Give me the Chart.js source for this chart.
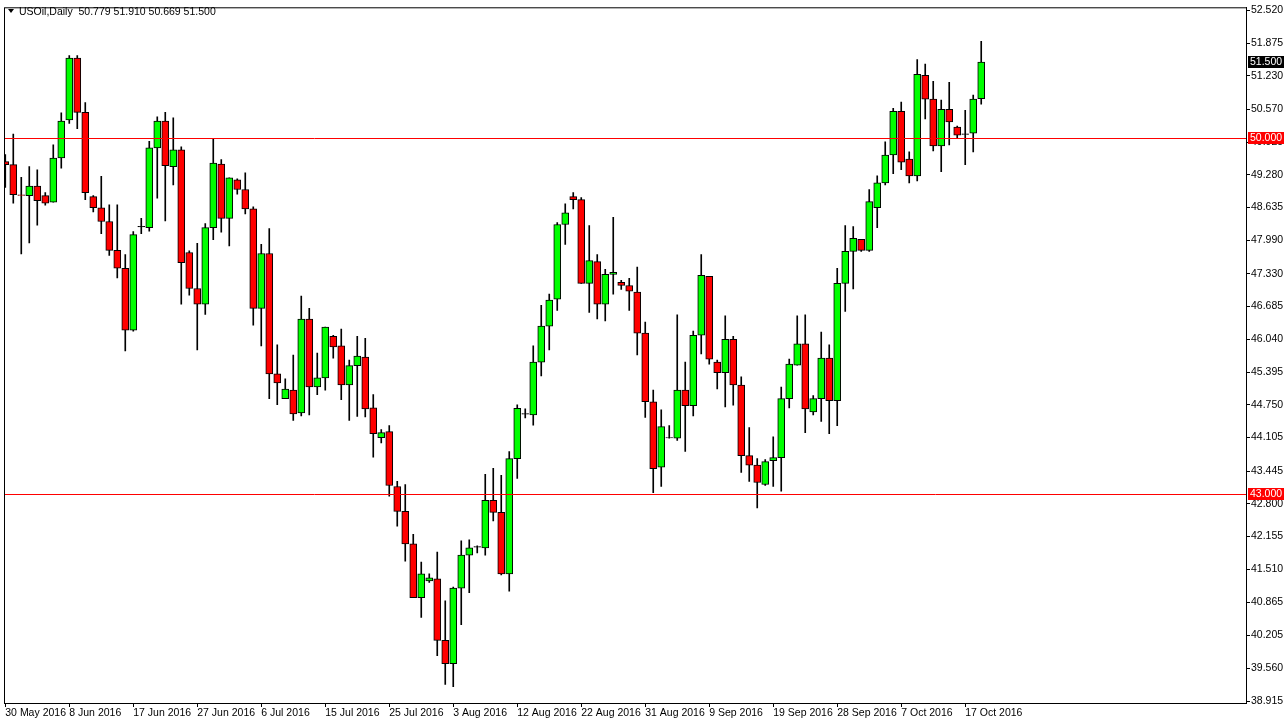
<!DOCTYPE html>
<html>
<head>
<meta charset="utf-8">
<script src="https://cdn.jsdelivr.net/npm/chart.js@4"></script>
<style>
  html, body { margin: 0; padding: 0; background: #fff; }
  canvas { display: block; }
</style>
</head>
<body>
<canvas id="oil_chart" width="1288" height="726"></canvas>
<script>
// daily candles, USOil 30 May 2016 - 21 Oct 2016
const opens = [49.54,49.48,48.88,48.87,49.06,48.87,48.74,49.61,50.36,51.58,
  50.51,48.85,48.63,48.36,47.79,47.44,46.22,48.26,48.24,49.81,
  50.34,49.44,49.77,47.75,47.04,46.73,48.24,49.49,48.42,49.18,
  48.99,48.61,46.65,47.73,45.36,44.87,45.04,44.59,46.44,45.10,
  45.28,46.10,45.91,45.14,45.52,45.69,44.69,44.10,44.22,43.14,
  42.65,42.01,40.95,41.28,41.32,40.11,39.65,41.14,41.79,41.95,
  41.93,42.87,42.63,41.42,43.69,44.57,44.55,45.59,46.30,46.83,
  48.30,48.85,48.79,47.14,47.57,46.73,47.32,47.16,47.10,46.97,
  46.16,44.81,43.52,44.10,44.09,45.04,44.73,46.12,47.28,45.59,
  45.38,46.04,45.14,43.75,43.56,43.18,43.65,43.71,44.87,45.53,
  45.95,44.61,44.87,45.67,44.83,47.14,47.77,48.01,47.79,48.63,
  49.12,49.67,50.53,49.59,49.26,51.24,50.77,49.85,50.57,50.22,
  50.08,50.10,50.779];
const highs = [49.68,50.08,49.23,49.44,49.38,48.93,49.87,50.50,51.63,51.63,
  50.70,48.87,49.25,48.69,48.69,47.71,48.16,48.42,49.94,50.42,
  50.51,50.40,49.83,47.78,47.93,48.32,49.98,49.58,49.22,49.20,
  49.32,48.65,47.91,48.22,45.93,45.26,45.73,46.89,46.65,45.77,
  46.28,46.12,46.24,45.63,46.10,46.06,44.95,44.26,44.34,43.24,
  43.18,42.20,41.65,41.42,41.85,40.89,41.16,42.07,42.09,41.97,
  43.38,43.50,43.36,43.83,44.75,44.67,45.91,46.71,46.93,48.34,
  48.71,48.93,48.83,48.28,47.71,47.42,48.44,47.20,47.24,47.46,
  46.38,45.04,44.65,44.34,46.52,45.59,46.20,47.71,47.28,45.63,
  46.50,46.10,45.30,44.30,43.69,43.67,44.12,45.10,45.65,46.50,
  46.52,44.93,46.18,45.93,47.44,48.28,48.26,48.01,48.99,49.26,
  49.93,50.59,50.71,49.73,51.55,51.46,51.12,50.75,51.10,50.24,
  50.55,50.85,51.910];
const lows = [49.03,48.72,47.72,47.94,48.29,48.68,48.74,49.41,50.29,50.19,
  48.79,48.55,48.12,47.69,47.25,45.81,46.20,48.12,48.17,48.82,
  48.37,49.08,46.73,46.91,45.83,46.53,48.00,48.15,47.88,48.90,
  48.51,46.32,45.91,44.87,44.75,44.87,44.44,44.53,44.55,44.95,
  45.04,45.67,44.85,44.44,44.52,44.51,43.72,44.00,42.95,42.36,
  41.67,40.95,40.56,41.25,39.81,39.24,39.20,40.42,41.05,41.83,
  41.79,42.46,41.40,41.08,43.30,44.49,44.35,45.32,45.83,46.61,
  47.91,48.61,47.14,46.57,46.44,46.40,46.93,47.02,46.61,45.73,
  44.50,43.02,43.14,44.09,44.05,43.83,44.53,45.75,45.55,45.06,
  44.71,44.74,43.42,43.24,42.72,43.16,43.14,43.05,44.69,45.53,
  44.20,44.55,44.42,44.18,44.34,46.59,47.03,47.77,47.77,48.24,
  49.08,49.30,49.38,49.12,49.16,50.38,49.75,49.34,49.87,50.00,
  49.48,49.73,50.669];
const closes = [49.48,48.89,48.87,49.06,48.77,48.72,49.61,50.34,51.58,50.51,
  48.93,48.63,48.36,47.79,47.44,46.22,48.10,48.26,49.81,50.34,
  49.46,49.77,47.55,47.04,46.73,48.24,49.51,48.42,49.22,48.99,
  48.61,46.65,47.73,45.36,45.18,45.06,44.57,46.44,45.10,45.28,
  46.28,45.89,45.14,45.52,45.71,44.67,44.18,44.20,43.16,42.65,
  42.01,40.95,41.42,41.34,40.11,39.65,41.14,41.79,41.93,41.95,
  42.87,42.63,41.42,43.69,44.68,44.57,45.59,46.30,46.81,48.30,
  48.53,48.79,47.14,47.59,46.73,47.32,47.36,47.10,46.99,46.16,
  44.81,43.49,44.32,44.10,45.04,44.73,46.12,47.30,45.65,45.38,
  46.04,45.14,43.75,43.56,43.22,43.63,43.71,44.87,45.55,45.95,
  44.67,44.87,45.67,44.83,47.14,47.77,48.03,47.79,48.75,49.12,
  49.67,50.53,49.53,49.26,51.26,50.77,49.85,50.57,50.32,50.06,
  50.08,50.77,51.500];

// x axis labels every 8 bars
const dateLabels = {0:"30 May 2016",8:"8 Jun 2016",16:"17 Jun 2016",24:"27 Jun 2016",
  32:"6 Jul 2016",40:"15 Jul 2016",48:"25 Jul 2016",56:"3 Aug 2016",64:"12 Aug 2016",
  72:"22 Aug 2016",80:"31 Aug 2016",88:"9 Sep 2016",96:"19 Sep 2016",104:"28 Sep 2016",
  112:"7 Oct 2016",120:"17 Oct 2016"};
const priceTicks = [52.520,51.875,51.230,50.570,49.925,49.280,48.635,47.990,47.330,46.685,
  46.040,45.395,44.750,44.105,43.445,42.800,42.155,41.510,40.865,40.205,39.560,38.915];
const levelLines = [50.000, 43.000];
const lastPrice = 51.500;
const titleText = "USOil,Daily  50.779 51.910 50.669 51.500";

const FONT = "'Liberation Sans', Arial, sans-serif";

let wickData = [], bodyData = [], bodyColors = [];
for(let i = 0; i < opens.length; i++){
    wickData.push({x: i, y: [lows[i], highs[i]]});
    let o = opens[i], c = closes[i];
    if(Math.abs(o - c) < 0.015){
        bodyData.push({x: i, y: [o - 0.005, o + 0.005]});
    } else {
        bodyData.push({x: i, y: [o, c]});
    }
    bodyColors.push(c > o ? "#00ff00" : (c < o ? "#ff0000" : "#000000"));
}

const overlayPlugin = {
    id: "overlay",
    afterDraw(chart){
        const ctx = chart.ctx;
        const area = chart.chartArea;
        const y = chart.scales.y;
        ctx.save();
        // level lines
        ctx.strokeStyle = "#ff0000";
        ctx.lineWidth = 1;
        levelLines.forEach(function(v){
            const py = Math.round(y.getPixelForValue(v)) + 0.5;
            ctx.beginPath();
            ctx.moveTo(area.left, py);
            ctx.lineTo(area.right, py);
            ctx.stroke();
        });
        // frame
        ctx.strokeStyle = "#000";
        ctx.strokeRect(area.left + 0.5, area.top + 0.5, area.right - area.left, area.bottom - area.top);
        // price boxes
        ctx.font = "10.5px " + FONT;
        ctx.textBaseline = "middle";
        function box(v, bg){
            const py = Math.round(y.getPixelForValue(v));
            ctx.fillStyle = bg;
            ctx.fillRect(area.right + 2, py - 6, 36, 12);
            ctx.fillStyle = "#fff";
            ctx.fillText(v.toFixed(3), area.right + 4, py + 0.5);
        }
        levelLines.forEach(function(v){ box(v, "#ff0000"); });
        box(lastPrice, "#000000");
        // title
        ctx.fillStyle = "#000";
        ctx.beginPath();
        ctx.moveTo(8, 9); ctx.lineTo(14, 9); ctx.lineTo(11, 13); ctx.closePath();
        ctx.fill();
        ctx.font = "10.5px " + FONT;
        ctx.fillText(titleText, 19, 12);
        ctx.restore();
    }
};

const config = {
    type: "bar",
    data: {
        datasets: [{
            label: "wick",
            data: wickData,
            backgroundColor: "#000",
            barThickness: 1,
            order: 2
        }, {
            label: "body",
            data: bodyData,
            backgroundColor: bodyColors,
            borderColor: "#000",
            borderWidth: 1,
            borderSkipped: false,
            barThickness: 7,
            order: 1
        }]
    },
    plugins: [overlayPlugin],
    options: {
        responsive: false,
        animation: false,
        grouped: false,
        layout: { padding: { left: 4, top: -3, right: 0, bottom: 0 } },
        plugins: {
            legend: { display: false },
            tooltip: { enabled: false }
        },
        scales: {
            x: {
                type: "linear",
                offset: false,
                min: -0.16,
                max: 155.1,
                afterBuildTicks: function(scale){
                    scale.ticks = Object.keys(dateLabels).map(function(k){ return {value: Number(k)}; });
                },
                afterFit: function(scale){ scale.height = 23; },
                ticks: {
                    align: "start",
                    autoSkip: false,
                    maxRotation: 0,
                    padding: 0,
                    color: "#000",
                    font: { family: FONT, size: 10.5 },
                    callback: function(value){ return dateLabels[value] || ""; }
                },
                grid: { drawOnChartArea: false, tickLength: 4, color: "#000", offset: false },
                border: { color: "#000" }
            },
            y: {
                position: "right",
                min: 38.876,
                max: 52.579,
                afterBuildTicks: function(scale){
                    scale.ticks = priceTicks.map(function(v){ return {value: v}; });
                },
                afterFit: function(scale){ scale.width = 42; },
                ticks: {
                    autoSkip: false,
                    padding: 1,
                    color: "#000",
                    font: { family: FONT, size: 10.5 },
                    callback: function(value){ return value.toFixed(3); }
                },
                grid: { drawOnChartArea: false, tickLength: 4, color: "#000" },
                border: { color: "#000" }
            }
        }
    }
};

new Chart(document.getElementById("oil_chart"), config);
</script>
</body>
</html>
